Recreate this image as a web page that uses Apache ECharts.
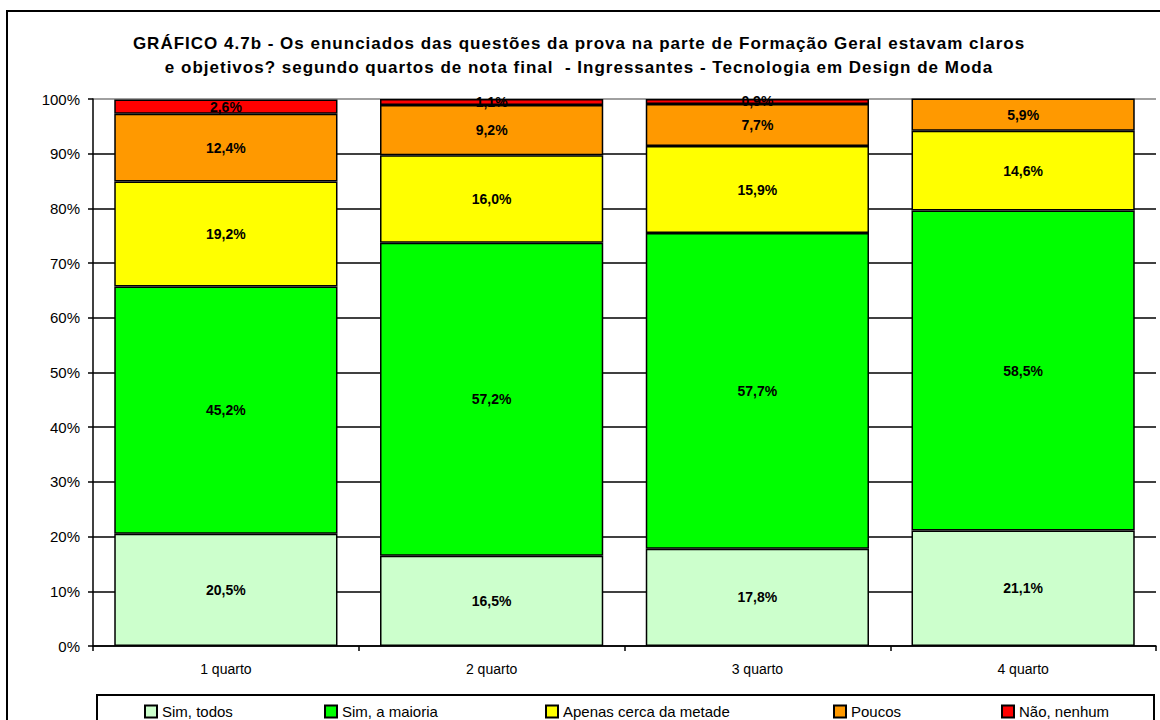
<!DOCTYPE html>
<html>
<head>
<meta charset="utf-8">
<script src="https://cdn.jsdelivr.net/npm/echarts@6/dist/echarts.min.js"></script>
<style>
  html, body { margin: 0; padding: 0; background: #fff; }
  #chart { width: 1160px; height: 720px; }
</style>
</head>
<body>
<div id="chart"></div>
<script>
const categories = ['1 quarto', '2 quarto', '3 quarto', '4 quarto']
const simTodos = [20.5, 16.5, 17.8, 21.1]
const simMaioria = [45.2, 57.2, 57.7, 58.5]
const apenasMetade = [19.2, 16.0, 15.9, 14.6]
const poucos = [12.4, 9.2, 7.7, 5.9]
const naoNenhum = [2.6, 1.1, 0.9, 0]
const yTicks = [0, 10, 20, 30, 40, 50, 60, 70, 80, 90, 100]

const chart = echarts.init(document.getElementById('chart'), null, { renderer: 'svg' })
const font = 'Liberation Sans, Arial, sans-serif'

const seriesDefs = [
  { name: 'Sim, todos', data: simTodos, color: '#CCFFCC' },
  { name: 'Sim, a maioria', data: simMaioria, color: '#00FF00' },
  { name: 'Apenas cerca da metade', data: apenasMetade, color: '#FFFF00' },
  { name: 'Poucos', data: poucos, color: '#FF9900' },
  { name: 'Não, nenhum', data: naoNenhum, color: '#FF0000' }
]

// legend items sit at uneven spots, so one legend per item
const legendLefts = [144, 324, 545, 833, 1001]

const gridColors = yTicks.map((t, i) => (i === yTicks.length - 1 ? '#808080' : '#000000'))

const option = {
  backgroundColor: '#fff',
  animation: false,
  textStyle: { fontFamily: font },
  title: {
    text: 'GRÁFICO 4.7b - Os enunciados das questões da prova na parte de Formação Geral estavam claros\ne objetivos? segundo quartos de nota final  - Ingressantes - Tecnologia em Design de Moda',
    left: 574,
    top: 26,
    textAlign: 'center',
    textStyle: {
      fontFamily: font,
      fontSize: 17,
      fontWeight: 'bold',
      color: '#000',
      lineHeight: 24
    }
  },
  graphic: [
    {
      type: 'rect',
      shape: { x: 7, y: 11, width: 1200, height: 800 },
      style: { fill: 'none', stroke: '#000', lineWidth: 2 },
      silent: true
    },
    {
      type: 'rect',
      shape: { x: 97, y: 695, width: 1057, height: 60 },
      style: { fill: 'none', stroke: '#000', lineWidth: 2 },
      silent: true
    }
  ],
  legend: seriesDefs.map((s, i) => ({
    data: [s.name],
    left: legendLefts[i],
    top: 704,
    padding: 0,
    itemWidth: 12,
    itemHeight: 12,
    itemGap: 0,
    icon: 'rect',
    textStyle: { fontFamily: font, fontSize: 15, color: '#000' }
  })),
  grid: { left: 93, top: 99, width: 1063, height: 547 },
  xAxis: {
    type: 'category',
    data: categories,
    axisLine: { lineStyle: { color: '#000', width: 1.5 } },
    axisTick: { show: true, length: 5, lineStyle: { color: '#000', width: 1.5 } },
    axisLabel: { color: '#000', fontSize: 14, margin: 16, fontFamily: font }
  },
  yAxis: {
    type: 'value',
    min: 0,
    max: 100,
    interval: 10,
    axisLine: { show: true, lineStyle: { color: '#000', width: 1.5 } },
    axisTick: { show: true, length: 5, lineStyle: { color: '#000', width: 1.5 } },
    axisLabel: { color: '#000', fontSize: 15, margin: 13, fontFamily: font, formatter: '{value}%' },
    splitLine: { show: true, lineStyle: { color: gridColors, width: 1.5 } }
  },
  series: seriesDefs.map(s => ({
    name: s.name,
    type: 'bar',
    stack: 'total',
    barWidth: '84%',
    data: s.data,
    itemStyle: { color: s.color, borderColor: '#000', borderWidth: 1.5 },
    label: {
      show: true,
      position: 'inside',
      color: '#000',
      fontSize: 14,
      fontWeight: 'bold',
      fontFamily: font,
      formatter: p => (p.value > 0 ? p.value.toFixed(1).replace('.', ',') + '%' : '')
    }
  }))
}

chart.setOption(option)

// the original title is letter-spaced; svg text lets us do that
document.querySelectorAll('#chart svg text').forEach(t => {
  const s = t.textContent
  if (s.startsWith('GRÁFICO') || s.startsWith('e objetivos')) {
    t.setAttribute('letter-spacing', '1')
  }
})
</script>
</body>
</html>
